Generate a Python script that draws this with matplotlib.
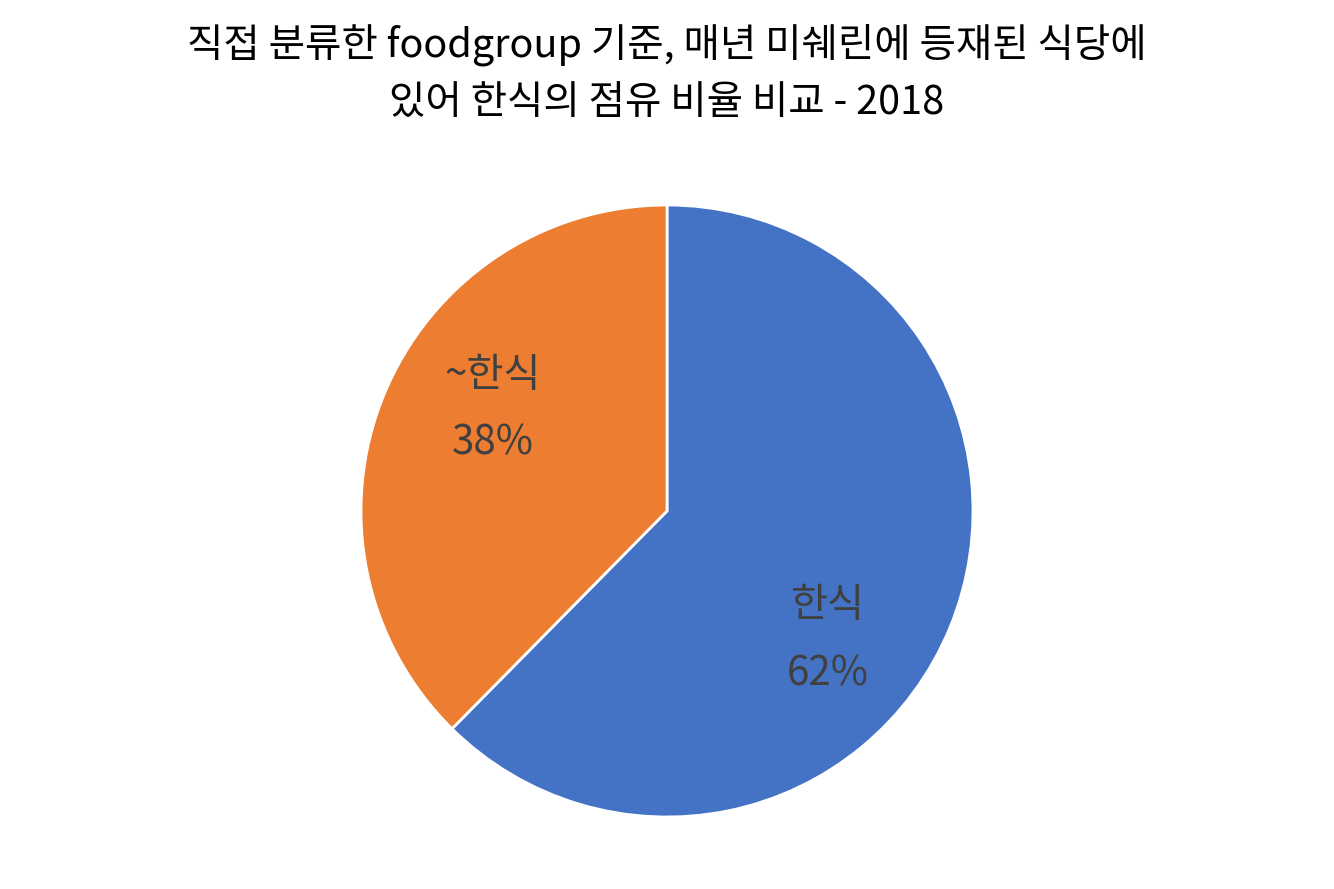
import matplotlib
matplotlib.use("Agg")
import matplotlib.pyplot as plt

plt.rcParams['font.family'] = ['Noto Sans CJK KR', 'DejaVu Sans']

labels = ['한식', '~한식']
values = [62.4, 37.6]
colors = ['#4472C4', '#ED7D31']
title = '직접 분류한 foodgroup 기준, 매년 미쉐린에 등재된 식당에\n있어 한식의 점유 비율 비교 - 2018'
# where Excel put the data labels (axes data coords, radius = 1)
label_pos = [(0.526, -0.42), (-0.569, 0.333)]

fig = plt.figure(figsize=(13.34, 8.89), dpi=100)
ax = fig.add_axes([361 / 1334, 72 / 889, 612 / 1334, 612 / 889])

names = iter(labels)


def fmt(pct):
    return '{}\n{:.0f}%'.format(next(names), pct)


wedges, texts, autotexts = ax.pie(values, colors=colors, startangle=90, counterclock=False,
                                  autopct=fmt, pctdistance=0.66, radius=1,
                                  wedgeprops=dict(edgecolor='white', linewidth=2))
for t, pos in zip(autotexts, label_pos):
    t.set_position(pos)
    t.set_fontsize(29)
    t.set_color('#404040')
    t.set_linespacing(1.85)
    t.set_ha('center')
    t.set_va('center')
ax.set_xlim(-1.0, 1.0)
ax.set_ylim(-1.0, 1.0)
ax.set_aspect('equal')

fig.text(0.5, 1 - 74 / 889, title, ha='center', va='center', fontsize=28.5,
         color='black', linespacing=1.57)

fig.savefig('out.png', dpi=100, facecolor='white')
